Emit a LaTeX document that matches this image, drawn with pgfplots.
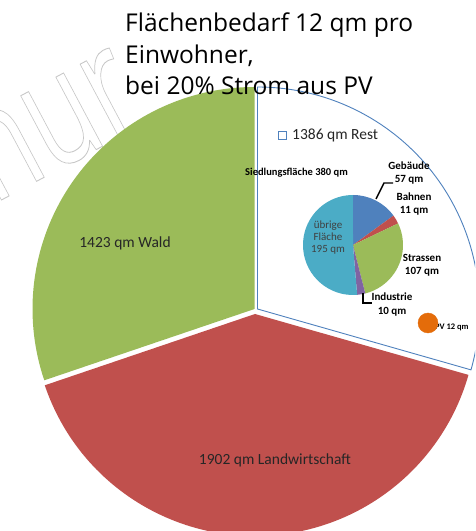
\documentclass[border=0pt]{standalone}
\usepackage{fontspec}
\setmainfont{Carlito}
\newfontfamily\titlefont{Open Sans}
\usepackage{pgfplots}
\pgfplotsset{compat=1.18}
\definecolor{cgreen}{HTML}{9BBB59}
\definecolor{cred}{HTML}{C0504D}
\definecolor{cblue}{HTML}{4F81BD}
\definecolor{cpurple}{HTML}{8064A2}
\definecolor{cteal}{HTML}{4BACC6}
\definecolor{corange}{HTML}{E46C0A}
% outer pie values (qm)
\def\vWald{1423}\def\vLand{1902}\def\vRest{1386}
% inner pie values (qm)
\def\vGeb{57}\def\vBah{11}\def\vStr{107}\def\vInd{10}\def\vUeb{195}
\pgfmathsetmacro\tOut{\vWald+\vLand+\vRest}
\pgfmathsetmacro\aRest{90-\vRest/\tOut*360}
\pgfmathsetmacro\aWald{90+\vWald/\tOut*360}
\pgfmathsetmacro\aLand{\aWald+\vLand/\tOut*360}
\pgfmathsetmacro\tIn{\vGeb+\vBah+\vStr+\vInd+\vUeb}
\pgfmathsetmacro\aGeb{90-\vGeb/\tIn*360}
\pgfmathsetmacro\aBah{\aGeb-\vBah/\tIn*360}
\pgfmathsetmacro\aStr{\aBah-\vStr/\tIn*360}
\pgfmathsetmacro\aInd{\aStr-\vInd/\tIn*360}
\pgfmathsetmacro\aUeb{\aInd-\vUeb/\tIn*360}
\newcommand{\pieslice}[6]{\fill[#1] (axis cs:#2,#3) -- ++(#5:#4pt) arc[start angle=#5, end angle=#6, radius=#4pt] -- cycle;}
\begin{document}
\begin{tikzpicture}
\begin{axis}[name=ax, scale only axis, width=475pt, height=531pt,
  xmin=0, xmax=475, ymin=0, ymax=531, hide axis, clip=true]
% watermark
\node[anchor=base east, rotate=28, xscale=0.7, inner sep=0, text=gray!45,
  font=\titlefont\fontsize{155}{155}\selectfont] at (axis cs:150,410)
  {\special{pdf:literal direct 1 Tr 0.9 w 0.78 0.78 0.78 RG}nur\special{pdf:literal direct 0 Tr}};
% outer pie
\pieslice{cgreen}{254.5}{222}{222}{90}{\aWald}
\pieslice{cred}{255}{217}{222}{\aWald}{\aLand}
\filldraw[fill=white, draw=cblue, line width=0.9pt] (axis cs:257.5,222) -- ++(90:222pt) arc[start angle=90, end angle=\aRest, radius=222pt] -- cycle;
% inner pie
\pieslice{cblue}{353}{286}{50}{90}{\aGeb}
\pieslice{cred}{353}{286}{50}{\aGeb}{\aBah}
\pieslice{cgreen}{353}{286}{50}{\aBah}{\aStr}
\pieslice{cpurple}{353}{286}{50}{\aStr}{\aInd}
\pieslice{cteal}{353}{286}{50}{\aInd}{\aUeb}
% PV
\addplot[only marks, mark=*, mark size=10pt, color=corange] coordinates {(428,208)};
% leader lines
\draw[line width=1.4pt] (axis cs:376,332) -- (axis cs:384,348) -- (axis cs:393,348);
\draw[line width=1.4pt] (axis cs:363,238) -- (axis cs:363,228) -- (axis cs:372,228);
% labels
\node[font=\fontsize{15.5}{18}\selectfont, text=black!85] at (axis cs:125,288) {1423 qm Wald};
\node[font=\fontsize{15.5}{18}\selectfont, text=black!85] at (axis cs:275,71) {1902 qm Landwirtschaft};
\filldraw[fill=white, draw=cblue, line width=0.9pt] (axis cs:278,392) rectangle (axis cs:286,400);
\node[anchor=west, inner sep=0, font=\fontsize{15.5}{18}\selectfont, text=black!85] at (axis cs:292,396) {1386 qm Rest};
\node[font=\bfseries\fontsize{10.5}{13}\selectfont] at (axis cs:296.5,358) {Siedlungsfläche 380 qm};
\node[align=center, font=\bfseries\fontsize{11}{13}\selectfont] at (axis cs:409,357.5) {Gebäude\\57 qm};
\node[align=center, font=\bfseries\fontsize{11}{13}\selectfont] at (axis cs:414,326.5) {Bahnen\\11 qm};
\node[align=center, font=\bfseries\fontsize{11}{13}\selectfont] at (axis cs:422,266) {Strassen\\107 qm};
\node[align=center, font=\bfseries\fontsize{11}{14}\selectfont] at (axis cs:392,226.5) {Industrie\\10 qm};
\node[align=center, text=black!75, font=\fontsize{11}{12}\selectfont] at (axis cs:328,293) {übrige\\Fläche\\195 qm};
\node[anchor=west, inner sep=0, font=\bfseries\fontsize{8.5}{10}\selectfont] at (axis cs:435,204) {PV 12 qm};
% title
\node[anchor=base west, inner sep=0, font=\titlefont\fontsize{24.5}{31.5}\selectfont] at (axis cs:125,499) {Flächenbedarf 12 qm pro};
\node[anchor=base west, inner sep=0, font=\titlefont\fontsize{24.5}{31.5}\selectfont] at (axis cs:125,467.5) {Einwohner,};
\node[anchor=base west, inner sep=0, font=\titlefont\fontsize{24.5}{31.5}\selectfont] at (axis cs:125,436) {bei 20\% Strom aus PV};
\end{axis}
\pgfresetboundingbox
\useasboundingbox (ax.south west) rectangle (ax.north east);
\end{tikzpicture}
\end{document}
